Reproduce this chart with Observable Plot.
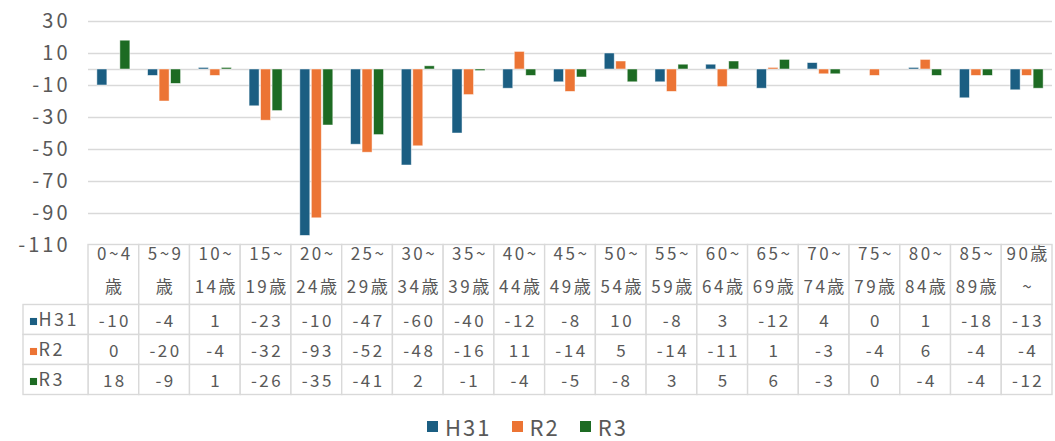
<!DOCTYPE html>
<html>
<head>
<meta charset="utf-8">
<script src="https://cdn.jsdelivr.net/npm/d3@7"></script>
<script src="https://cdn.jsdelivr.net/npm/@observablehq/plot@0.6"></script>
<style>
  body { margin: 0; background: #fff; }
  #wrap { position: relative; width: 1055px; height: 441px; font-family: "Noto Sans CJK JP", "Noto Sans", sans-serif; color: #595959; overflow: hidden; }
  #chart, #table { position: absolute; left: 0; }
  #chart { top: 0; }
  #table { top: 224px; }
  #chart text { letter-spacing: 3px; }
  #table text { letter-spacing: 2.5px; }
  #legend { position: absolute; top: 410px; left: 0; width: 1055px; display: flex; justify-content: center; gap: 20px; font-size: 22px; letter-spacing: 2px; }
  .item { display: flex; align-items: center; }
  .sw { width: 11px; height: 11px; margin-right: 7px; }
</style>
</head>
<body>
<div id="wrap">
  <div id="chart"></div>
  <div id="table"></div>
  <div id="legend"></div>
</div>
<script>
// ---- data ----
const categories = ["0~4\n歳","5~9\n歳","10~\n14歳","15~\n19歳","20~\n24歳","25~\n29歳","30~\n34歳","35~\n39歳","40~\n44歳","45~\n49歳","50~\n54歳","55~\n59歳","60~\n64歳","65~\n69歳","70~\n74歳","75~\n79歳","80~\n84歳","85~\n89歳","90歳\n~"];
const seriesNames = ["H31", "R2", "R3"];
const h31 = [-10, -4, 1, -23, -104, -47, -60, -40, -12, -8, 10, -8, 3, -12, 4, 0, 1, -18, -13];
const r2  = [0, -20, -4, -32, -93, -52, -48, -16, 11, -14, 5, -14, -11, 1, -3, -4, 6, -4, -4];
const r3  = [18, -9, 1, -26, -35, -41, 2, -1, -4, -5, -8, 3, 5, 6, -3, 0, -4, -4, -12];
const yTicks = [30, 10, -10, -30, -50, -70, -90, -110];
const colors = ["#1b5e82", "#ec7434", "#1d6b23"];

// ---- derived table ----
const seriesValues = [h31, r2, r3];
const rows = seriesNames.flatMap((s, k) => seriesValues[k].map((v, i) => ({cat: categories[i], series: s, value: v, i, k, row: 2 + k})));

const W = 1055, ML = 88, MR = 3;
const grid = "#d9d9d9", ink = "#595959";
const font = '"Noto Sans CJK JP", "Noto Sans", sans-serif';
const n = categories.length;
const bw = (W - ML - MR) / n;     // category band width (px)
const barW = 10, barStep = 11.5;  // bar width and spacing inside a group

const chart = Plot.plot({
  width: W, height: 256,
  marginTop: 21, marginBottom: 11, marginLeft: ML, marginRight: MR,
  style: {background: "transparent", overflow: "visible", fontFamily: font, color: ink},
  x: {domain: categories, padding: 0, round: false, axis: null},
  y: {domain: [-110, 30], axis: null},
  color: {domain: seriesNames, range: colors},
  marks: [
    Plot.ruleY([...yTicks, 0], {stroke: grid, strokeWidth: 1.6}),
    ...seriesNames.map((s, k) =>
      Plot.barY(rows.filter(d => d.series === s), {
        x: "cat", y: "value", fill: "series",
        insetLeft: (bw - barW) / 2, insetRight: (bw - barW) / 2, dx: (k - 1) * barStep,
        stroke: "white", strokeWidth: 0.8, strokeOpacity: 0.6
      })),
    Plot.axisY({ticks: yTicks, tickSize: 0, tickPadding: 18, fontSize: 20, label: null, tickFormat: d => String(d), fill: ink})
  ]
});
document.getElementById("chart").append(chart);

// ---- data table drawn with Plot ----
const labelW = 65;
const xl = -labelW / bw;
const table = Plot.plot({
  width: W, height: 172,
  marginTop: 20.5, marginBottom: 1.5, marginLeft: ML - labelW, marginRight: MR,
  style: {background: "transparent", fontFamily: font, color: ink},
  x: {domain: [xl, n], axis: null},
  y: {domain: [0, 5], reverse: true, axis: null},
  color: {domain: seriesNames, range: colors},
  marks: [
    Plot.rect(categories, {x1: (d, i) => i, x2: (d, i) => i + 1, y1: 0, y2: 2, fill: "white", stroke: grid, strokeWidth: 1.4}),
    Plot.rect(rows, {x1: "i", x2: d => d.i + 1, y1: "row", y2: d => d.row + 1, fill: "white", stroke: grid, strokeWidth: 1.4}),
    Plot.rect(seriesNames, {x1: xl, x2: 0, y1: (d, k) => 2 + k, y2: (d, k) => 3 + k, fill: "white", stroke: grid, strokeWidth: 1.4}),
    Plot.text(categories, {x: (d, i) => i + 0.5, y: 0.7, dx: 1, text: d => d, lineHeight: 1.95, fontSize: 17, fill: ink}),
    // Excel clips text that overflows a cell, so only 3 characters show
    Plot.text(rows, {x: d => d.i + 0.5, y: d => d.row + 0.55, dx: 1, text: d => String(d.value).slice(0, 3), fontSize: 17, fill: ink}),
    Plot.dot(seriesNames, {x: xl, y: (d, k) => 2.55 + k, dx: 10, symbol: "square", r: 4, fill: d => d, stroke: null}),
    Plot.text(seriesNames, {x: xl, y: (d, k) => 2.5 + k, dx: 15, textAnchor: "start", text: d => d, fontSize: 18, fill: ink})
  ]
});
document.getElementById("table").append(table);

// ---- legend ----
const legend = document.getElementById("legend");
seriesNames.forEach((s, k) => {
  const it = document.createElement("div");
  it.className = "item";
  const sw = document.createElement("span");
  sw.className = "sw";
  sw.style.background = colors[k];
  const t = document.createElement("span");
  t.textContent = s;
  it.append(sw, t);
  legend.append(it);
});
</script>
</body>
</html>
